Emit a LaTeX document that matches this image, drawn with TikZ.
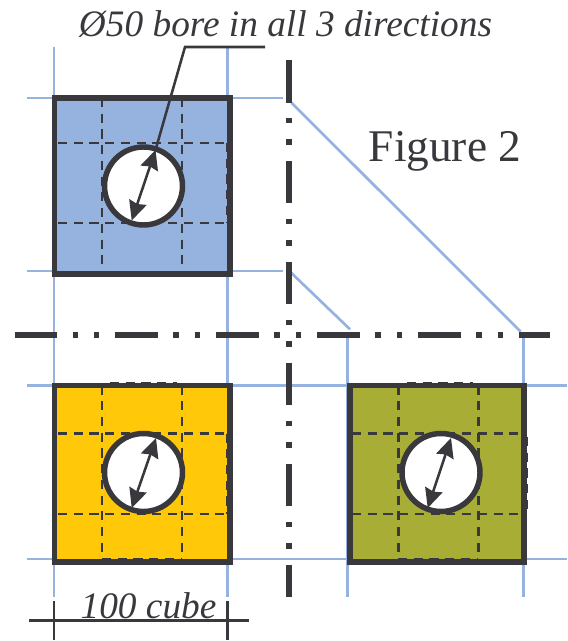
\documentclass[tikz,border=0pt]{standalone}
\usepackage{fontspec}
\setmainfont{Liberation Serif}
\usetikzlibrary{arrows.meta}
\definecolor{ink}{HTML}{38383D}
\definecolor{guide}{HTML}{95B3DE}
\definecolor{cubeblue}{HTML}{95B3DE}
\definecolor{cubeyellow}{HTML}{FFC90A}
\definecolor{cubeolive}{HTML}{A8AD36}
\tikzset{
  x=0.75pt,y=-0.75pt,
  guideline/.style={guide,line width=2pt},
  cube/.style={draw=ink,line width=4.3pt,line join=miter},
  hidden/.style={ink,line width=2pt,dash pattern=on 6.8pt off 5pt},
  bore/.style={draw=ink,fill=white,line width=4.1pt,circle,inner sep=0pt,minimum size=58.5pt},
  centreline/.style={ink,line width=4.3pt,dash pattern=on 31.9pt off 11.6pt on 4.1pt off 12pt on 4.1pt off 12pt},
  dim/.style={ink,line width=1.9pt},
  dimarrow/.style={ink,line width=1.9pt,{Stealth[length=14.5pt,width=13.5pt,inset=1.5pt]}-{Stealth[length=14.5pt,width=13.5pt,inset=1.5pt]}},
  label/.style={text=ink,inner sep=0pt,font=\itshape\fontsize{28}{28}\selectfont},
}
\begin{document}
\begin{tikzpicture}
\useasboundingbox (0,0) rectangle (567,641);
% guide lines
\foreach \xx/\ya/\yb in {54/47/597,227.5/47/597,347.5/335.7/597,523.5/335.7/597}
  \draw[guideline] (\xx,\ya) -- (\xx,\yb);
\foreach \yy/\xa/\xb in {98/27/283,271/27/283,385.7/27/567,559/27/567}
  \draw[guideline] (\xa,\yy) -- (\xb,\yy);
\draw[guideline] (291.5,102.7) -- (520.7,331.7);
\draw[guideline] (289.3,271) -- (350,329.3);
% centre lines
\draw[centreline] (289,60) -- (289,597);
\draw[centreline] (14.5,335) -- (550,335);
% blue cube
\fill[cubeblue] (54.5,98) rectangle (230,273.8);
\foreach \xx in {102,182} \draw[hidden] (\xx,98) -- (\xx,273);
\foreach \yy in {143,223} \draw[hidden] (58,\yy) -- (227,\yy);
\draw[hidden] (227,143) -- (227,223);
\draw[cube] (54.5,98) rectangle (230,273.8);
\node[bore] (boreA) at (143.5,186) {};
\coordinate (aT) at (155.5,150);
\coordinate (aB) at (131.7,220.5);
\draw[dimarrow] (aT) -- (aB);
% yellow cube
\fill[cubeyellow] (54.5,385.5) rectangle (230,561.8);
\foreach \xx in {102,182} \draw[hidden] (\xx,385.5) -- (\xx,561);
\foreach \yy in {433.5,514} \draw[hidden] (58,\yy) -- (227,\yy);
\draw[hidden] (227,433.5) -- (227,514);
\draw[hidden] (102,559) -- (182,559);
\draw[hidden] (110,383) -- (177,383);
\draw[cube] (54.5,385.5) rectangle (230,561.8);
\node[bore] (boreB) at (143.5,472.5) {};
\coordinate (bT) at (156,438);
\coordinate (bB) at (131.7,508);
\draw[dimarrow] (bT) -- (bB);
% olive cube
\fill[cubeolive] (350.2,385.5) rectangle (523.8,561.8);
\foreach \xx in {398.5,478.5} \draw[hidden] (\xx,385.5) -- (\xx,561);
\foreach \yy in {433.5,514} \draw[hidden] (352,\yy) -- (525,\yy);
\draw[hidden] (527,437) -- (527,514);
\draw[hidden] (398,559) -- (478,559);
\draw[hidden] (407,383) -- (473,383);
\draw[cube] (350.2,385.5) rectangle (523.8,561.8);
\node[bore] (boreC) at (441,472.5) {};
\coordinate (cT) at (451,438);
\coordinate (cB) at (427.7,508);
\draw[dimarrow] (cT) -- (cB);
% leader
\coordinate (leadEnd) at (265,47);
\coordinate (leadKnee) at (185,47);
\draw[dim] (leadEnd) -- (leadKnee) -- (aT);
% dimension
\coordinate (dimL) at (29,620.3);
\coordinate (dimR) at (249,620.3);
\coordinate (t1a) at (54,601); \coordinate (t1b) at (54,640);
\coordinate (t2a) at (227.5,601); \coordinate (t2b) at (227.5,640);
\draw[dim] (dimL) -- (dimR);
\draw[dim] (t1a) -- (t1b);
\draw[dim] (t2a) -- (t2b);
% text
\node[label,anchor=base] (tBore) at (285.5,36.7) {Ø50 bore in all 3 directions};
\node[label,anchor=base] (tCube) at (148.5,618) {100 cube};
\node[text=ink,inner sep=0pt,anchor=base,font=\fontsize{34}{34}\selectfont] (tFig) at (445,162) {Figure 2};
\end{tikzpicture}
\end{document}
